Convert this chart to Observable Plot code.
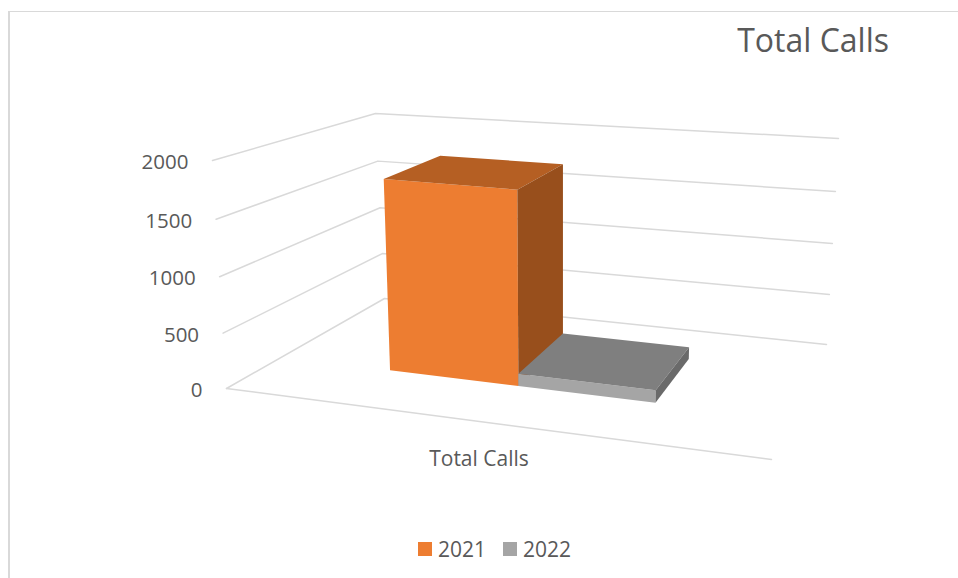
<!DOCTYPE html>
<html>
<head>
<meta charset="utf-8">
<script src="https://cdn.jsdelivr.net/npm/d3@7"></script>
<script src="https://cdn.jsdelivr.net/npm/@observablehq/plot@0.6"></script>
<style>
  html, body { margin: 0; padding: 0; background: #fff; overflow: hidden; }
  body { width: 958px; height: 578px; font-family: "Open Sans", sans-serif; color: #595959; }
  #frame { position: absolute; left: 8px; top: 11px; width: 950px; height: 567px; box-sizing: border-box;
           border-top: 1.5px solid #d9d9d9; border-left: 2px solid #d9d9d9; }
  #title { height: 60px; font-size: 32px; line-height: 55px; text-align: right; padding-right: 69px; box-sizing: border-box; }
  #chart svg { display: block; }
  #legend { position: relative; height: 50px; font-size: 21px; }
  .key { position: absolute; top: 7px; display: flex; align-items: center; line-height: 28px; }
  .swatch { width: 14px; height: 14px; margin-right: 6px; display: inline-block; }
</style>
</head>
<body>
<div id="frame">
  <div id="title"></div>
  <div id="chart"></div>
  <div id="legend"></div>
</div>
<script>
// ---- data ----
const chartTitle = "Total Calls";
const categories = ["Total Calls"];
const seriesNames = ["2021", "2022"];
const seriesValues = [1765, 115];
const valueTicks = [0, 500, 1000, 1500, 2000];
const frontColors = ["#ED7D31", "#A5A5A5"];
const topColors = ["#B55F23", "#7F7F7F"];
const sideColors = ["#984F1C", "#6A6A6A"];

// ---- 3D frame: the chart box as seen by the camera ----
const vMax = 2000;
const box = {
  flb: [226, 388], frb: [771, 459], blb: [384, 298], brb: [826, 344],
  flt: [212, 160], frt: [782, 208], blt: [375, 113], brt: [838, 138]
};
const barEdges = [0.215, 0.467, 0.736];   // along the category axis
const barDepth = [0.345, 0.75];           // front to back
const lerp = (a, b, t) => a + (b - a) * t;
function project(u, d, v) {
  const t0 = v / vMax;
  const t = t0 / (1 + 0.04 * (1 - t0));
  return [0, 1].map(i => {
    const bottom = lerp(lerp(box.flb[i], box.frb[i], u), lerp(box.blb[i], box.brb[i], u), d);
    const top = lerp(lerp(box.flt[i], box.frt[i], u), lerp(box.blt[i], box.brt[i], u), d);
    return lerp(bottom, top, t);
  });
}

// ---- grid lines ----
const gridRows = [];
for (const v of valueTicks) {
  for (const [u, d] of [[0, 0], [0, 1], [1, 1]]) {
    const [x, y] = project(u, d, v);
    gridRows.push({key: "v" + v, x, y});
  }
}
for (const [u, d] of [[0, 0], [1, 0]]) {
  const [x, y] = project(u, d, 0);
  gridRows.push({key: "floor", x, y});
}

// ---- bar faces ----
const faceRows = [];
function face(key, fill, a, b, c, e) {
  // a-b is one edge, e-c the opposite one
  faceRows.push({key, fill, x1: a[0], y1: a[1], x2: e[0], y2: e[1]});
  faceRows.push({key, fill, x1: b[0], y1: b[1], x2: c[0], y2: c[1]});
}
seriesValues.forEach((v, i) => {
  const u0 = barEdges[i], u1 = barEdges[i + 1];
  const [d0, d1] = barDepth;
  face("front" + i, frontColors[i], project(u0, d0, v), project(u1, d0, v), project(u1, d0, 0), project(u0, d0, 0));
  face("top" + i, topColors[i], project(u0, d1, v), project(u1, d1, v), project(u1, d0, v), project(u0, d0, v));
  face("side" + i, sideColors[i], project(u1, d0, v), project(u1, d1, v), project(u1, d1, 0), project(u1, d0, 0));
});

// ---- labels ----
const tickRows = valueTicks.map(v => {
  const [x, y] = project(0, 0, v);
  return {x, y, label: String(v)};
});
const catPos = project(0.5, 0, 0);
const catRows = categories.map(label => ({x: catPos[0], y: catPos[1], label}));

// ---- plot ----
const top0 = 72, svgH = 456, left0 = 10;
const plot = Plot.plot({
  width: 948, height: svgH,
  marginTop: 0, marginRight: 0, marginBottom: 0, marginLeft: 0,
  x: {domain: [left0, 958], range: [0, 948], axis: null},
  y: {domain: [top0, top0 + svgH], range: [0, svgH], axis: null},
  style: {background: "transparent"},
  marks: [
    Plot.line(gridRows, {x: "x", y: "y", z: "key", stroke: "#d9d9d9", strokeWidth: 1.5}),
    Plot.area(faceRows, {x1: "x1", y1: "y1", x2: "x2", y2: "y2", z: "key", fill: d => d.fill}),
    Plot.text(tickRows, {x: "x", y: "y", text: "label", textAnchor: "end", dx: -24, dy: 2,
      fontSize: 20.5, fontFamily: "Open Sans", fill: "#595959"}),
    Plot.text(catRows, {x: "x", y: "y", text: "label", dx: -20, dy: 35,
      fontSize: 21, fontFamily: "Open Sans", fill: "#595959"})
  ]
});
document.getElementById("chart").append(plot);
document.getElementById("title").textContent = chartTitle;

// ---- legend ----
const legend = document.getElementById("legend");
seriesNames.forEach((name, i) => {
  const key = document.createElement("div");
  key.className = "key";
  key.style.left = (408 + i * 85) + "px";
  const sw = document.createElement("span");
  sw.className = "swatch";
  sw.style.background = frontColors[i];
  key.append(sw, name);
  legend.append(key);
});
</script>
</body>
</html>
